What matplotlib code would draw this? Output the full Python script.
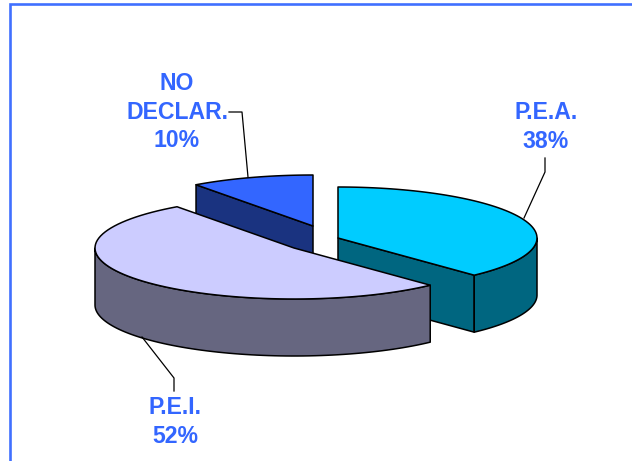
import numpy as np
import matplotlib
matplotlib.use("Agg")
import matplotlib.pyplot as plt
from matplotlib.patches import Polygon

plt.rcParams['font.family'] = ['Liberation Sans', 'DejaVu Sans']

labels = ["P.E.A.", "P.E.I.", "NO\nDECLAR."]
values = [38, 52, 10]
top_colors = ["#00CCFF", "#CCCCFF", "#3366FF"]
side_colors = ["#006680", "#666680", "#1A3380"]

# pixel layout of the exploded 3D pie
centers = [(338, 238), (294, 248), (313, 226)]
label_pos = [(546, 127), (175, 422), (177, 112)]
leaders = [[(524, 218), (545, 172), (545, 158)],
           [(142, 337), (174, 378), (174, 391)],
           [(248, 177), (242, 112), (229, 112)]]
RX, RY, DEPTH = 199, 51, 57
TEXT = "#3366FF"
FRAME = "#4070FF"


def arc(c, a0, a1, n=80):
    t = np.radians(np.linspace(a0, a1, n))
    return np.column_stack([c[0] + RX*np.sin(t), c[1] - RY*np.cos(t)])


def wall(pts):
    low = pts[::-1] + [0, DEPTH]
    return np.vstack([pts, low])


fig = plt.figure(figsize=(6.32, 4.61), dpi=100)
ax = fig.add_axes([0, 0, 1, 1])
ax.set_xlim(0, 632); ax.set_ylim(461, 0); ax.axis("off")

# frame, open on the bottom and right
ax.plot([10, 10, 632], [461, 4, 4], color=FRAME, lw=1.9, solid_joinstyle="miter")

cum = np.cumsum([0] + values) * 3.6
for i in [2, 0, 1]:
    c = centers[i]
    a0, a1 = cum[i], cum[i+1]
    style = dict(edgecolor="black", lw=1.1, joinstyle="round")
    # flat cut faces turned towards the viewer
    for ang, normal in [(a0, a0-90), (a1, a1+90)]:
        if np.cos(np.radians(normal)) < -1e-6:
            edge = np.array([c, arc(c, ang, ang, 1)[0]])
            ax.add_patch(Polygon(wall(edge), facecolor=side_colors[i], **style))
    # rounded outer wall, front half only
    w0, w1 = max(a0, 90), min(a1, 270)
    if w1 > w0:
        ax.add_patch(Polygon(wall(arc(c, w0, w1)), facecolor=side_colors[i], **style))
    top = np.vstack([[c], arc(c, a0, a1)])
    ax.add_patch(Polygon(top, facecolor=top_colors[i], **style))

for i, lab in enumerate(labels):
    xs, ys = zip(*leaders[i])
    ax.plot(xs, ys, color="black", lw=0.9)
    ax.text(label_pos[i][0], label_pos[i][1], f"{lab}\n{values[i]}%", color=TEXT,
            fontsize=16.6, fontweight="bold", ha="center", va="center", linespacing=1.3)

fig.savefig("out.png", dpi=100)
